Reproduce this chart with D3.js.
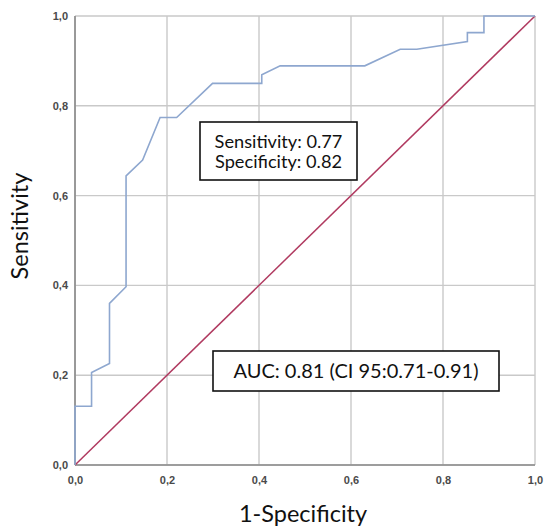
<!DOCTYPE html>
<html>
<head>
<meta charset="utf-8">
<script src="https://cdn.jsdelivr.net/npm/d3@7"></script>
<style>
body { margin: 0; background: #fff; }
svg { display: block; }
</style>
</head>
<body>
<script>
// Data
const fpr = [0, 0, 0.036, 0.036, 0.075, 0.075, 0.111, 0.111, 0.147, 0.185, 0.221, 0.299, 0.406, 0.406, 0.446, 0.630, 0.707, 0.743, 0.853, 0.853, 0.889, 0.889, 1.0];
const tpr = [0, 0.131, 0.131, 0.206, 0.226, 0.360, 0.397, 0.644, 0.679, 0.774, 0.774, 0.850, 0.850, 0.869, 0.889, 0.889, 0.926, 0.926, 0.943, 0.963, 0.963, 1.0, 1.0];
const refLine = [0, 1];
const tickValues = [0, 0.2, 0.4, 0.6, 0.8, 1.0];
const tickLabels = ["0,0", "0,2", "0,4", "0,6", "0,8", "1,0"];
const sensText = ["Sensitivity: 0.77", "Specificity: 0.82"];
const aucText = "AUC: 0.81 (CI 95:0.71-0.91)";

const W = 544, H = 528;
const m = { left: 75, right: 9, top: 16, bottom: 63 };

const svg = d3.select("body").append("svg").attr("width", W).attr("height", H);

const x = d3.scaleLinear().domain([0, 1]).range([m.left, W - m.right]);
const y = d3.scaleLinear().domain([0, 1]).range([H - m.bottom, m.top]);

// Grid
const g = svg.append("g");
g.selectAll(".vg").data(tickValues).join("line")
  .attr("x1", d => x(d)).attr("x2", d => x(d))
  .attr("y1", y(0)).attr("y2", y(1))
  .attr("stroke", "#c9c9c9").attr("stroke-width", 1.4);
g.selectAll(".hg").data(tickValues).join("line")
  .attr("y1", d => y(d)).attr("y2", d => y(d))
  .attr("x1", x(0)).attr("x2", x(1))
  .attr("stroke", "#c9c9c9").attr("stroke-width", 1.4);

// Axes lines
svg.append("line").attr("x1", x(0)).attr("x2", x(0)).attr("y1", y(0)).attr("y2", y(1))
  .attr("stroke", "#8a8a8a").attr("stroke-width", 1.6);
svg.append("line").attr("x1", x(0)).attr("x2", x(1)).attr("y1", y(0)).attr("y2", y(0))
  .attr("stroke", "#8a8a8a").attr("stroke-width", 1.6);

// Tick labels via axes
const xAxis = d3.axisBottom(x).tickValues(tickValues).tickSize(0).tickPadding(11)
  .tickFormat((d, i) => tickLabels[i]);
const yAxis = d3.axisLeft(y).tickValues(tickValues).tickSize(0).tickPadding(7)
  .tickFormat((d, i) => tickLabels[i]);
const xa = svg.append("g").attr("transform", `translate(0,${y(0)})`).call(xAxis);
const ya = svg.append("g").attr("transform", `translate(${x(0)},0)`).call(yAxis);
[xa, ya].forEach(a => {
  a.select(".domain").remove();
  a.selectAll("text").attr("font-family", "Liberation Sans, Arial, sans-serif")
    .attr("font-size", 11).attr("font-weight", "bold").attr("fill", "#4a4a4a");
});

// Reference diagonal
svg.append("line")
  .attr("x1", x(refLine[0])).attr("y1", y(refLine[0]))
  .attr("x2", x(refLine[1])).attr("y2", y(refLine[1]))
  .attr("stroke", "#b03a60").attr("stroke-width", 1.5);

// ROC curve
const pts = fpr.map((f, i) => [f, tpr[i]]);
svg.append("path")
  .datum(pts)
  .attr("d", d3.line().x(d => x(d[0])).y(d => y(d[1])))
  .attr("fill", "none").attr("stroke", "#8ea7cf").attr("stroke-width", 1.6);

const font = "Lato, 'Open Sans', sans-serif";

// Sensitivity box
svg.append("rect").attr("x", 200).attr("y", 122).attr("width", 157).attr("height", 58)
  .attr("fill", "#fff").attr("stroke", "#111").attr("stroke-width", 1.6);
svg.selectAll(".st").data(sensText).join("text")
  .attr("x", 278.5).attr("y", (d, i) => 147.5 + i * 20)
  .attr("text-anchor", "middle").attr("font-family", font).attr("font-size", 18.2)
  .attr("fill", "#111").text(d => d);

// AUC box
svg.append("rect").attr("x", 213).attr("y", 351).attr("width", 286).attr("height", 40)
  .attr("fill", "#fff").attr("stroke", "#111").attr("stroke-width", 1.6);
svg.append("text").attr("x", 356).attr("y", 378)
  .attr("text-anchor", "middle").attr("font-family", font).attr("font-size", 20)
  .attr("fill", "#111").text(aucText);

// Axis titles
svg.append("text").attr("x", (x(0) + x(1)) / 2 - 2).attr("y", 522)
  .attr("text-anchor", "middle").attr("font-family", font).attr("font-size", 23.5)
  .attr("fill", "#111").text("1-Specificity");
svg.append("text").attr("transform", `translate(28,226) rotate(-90)`)
  .attr("text-anchor", "middle").attr("font-family", font).attr("font-size", 23.5)
  .attr("fill", "#111").text("Sensitivity");
</script>
</body>
</html>
